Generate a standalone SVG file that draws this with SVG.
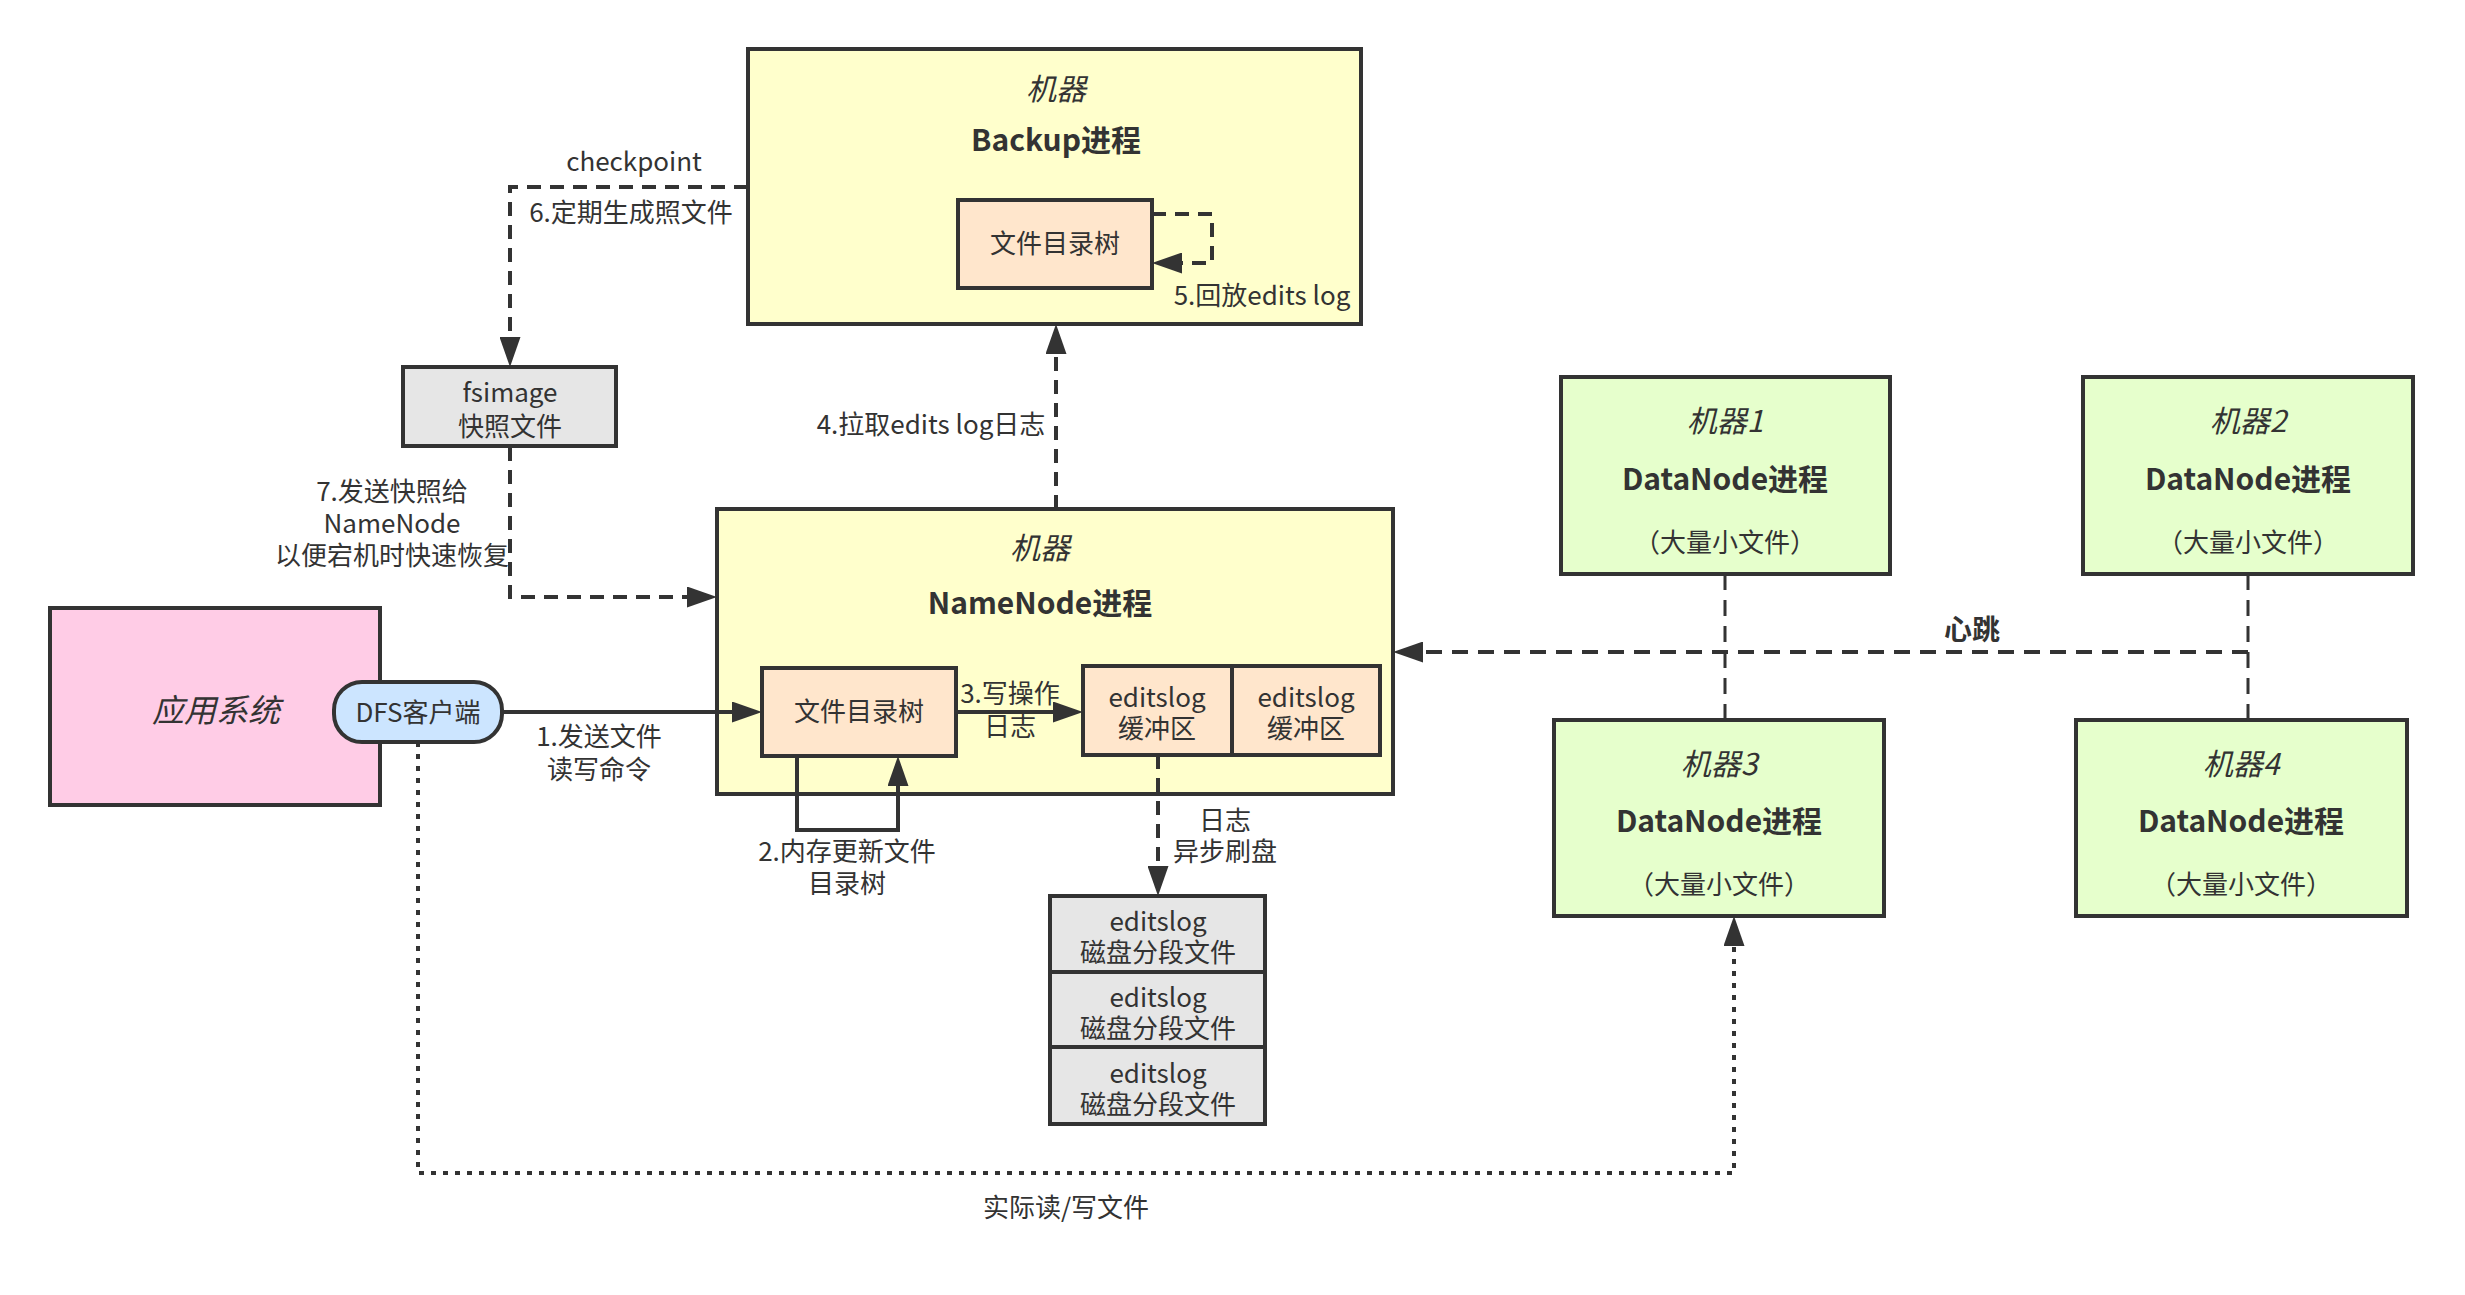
<svg xmlns="http://www.w3.org/2000/svg" width="2465" height="1295" viewBox="0 0 2465 1295">
<style>
text{font-family:"Noto Sans CJK SC","Noto Sans",sans-serif;fill:#333333;text-anchor:middle;dominant-baseline:central}
.t{font-size:26px}
.ti{font-size:30px;font-style:italic}
.tb{font-size:30px;font-weight:bold}
.box{stroke:#333333;stroke-width:4}
.yel{fill:#FFFFCC}.pch{fill:#FFE6CC}.gry{fill:#E6E6E6}.grn{fill:#E6FFCC}.pnk{fill:#FFCCE6}.blu{fill:#CCE5FF}
.c{fill:none;stroke:#333333;stroke-width:4}
.d{stroke-dasharray:14 9}
.dt{stroke-dasharray:5 7}
.thin{stroke-width:3;stroke-dasharray:16 10}
</style>
<defs>
<marker id="ah" markerUnits="userSpaceOnUse" viewBox="0 0 30 21" refX="2" refY="10.5" markerWidth="30" markerHeight="21" orient="auto">
<path d="M0,0 L30,10.5 L0,21 z" fill="#333333"/>
</marker>
</defs>
<rect width="2465" height="1295" fill="#ffffff"/>

<g id="backup">
<rect class="box yel" x="748" y="49" width="613" height="275"/>
<text class="ti" x="1056" y="87">机器</text>
<text class="tb" x="1056" y="138">Backup进程</text>
</g>
<g id="backup-tree">
<rect class="box pch" x="958" y="200" width="194" height="88"/>
<text class="t" x="1055" y="241">文件目录树</text>
</g>
<g id="fsimage">
<rect class="box gry" x="403" y="367" width="213" height="79"/>
<text class="t" x="510" y="390">fsimage<tspan x="510" dy="34">快照文件</tspan></text>
</g>
<g id="namenode">
<rect class="box yel" x="717" y="509" width="676" height="285"/>
<text class="ti" x="1040" y="546">机器</text>
<text class="tb" x="1040" y="601">NameNode进程</text>
</g>
<g id="nn-tree">
<rect class="box pch" x="762" y="668" width="194" height="88"/>
<text class="t" x="859" y="709">文件目录树</text>
</g>
<g id="buffer1">
<rect class="box pch" x="1083" y="666" width="149" height="89"/>
<text class="t" x="1157" y="695">editslog<tspan x="1157" dy="31">缓冲区</tspan></text>
</g>
<g id="buffer2">
<rect class="box pch" x="1232" y="666" width="148" height="89"/>
<text class="t" x="1306" y="695">editslog<tspan x="1306" dy="31">缓冲区</tspan></text>
</g>
<g id="disk1">
<rect class="box gry" x="1050" y="896" width="215" height="76"/>
<text class="t" x="1158" y="919">editslog<tspan x="1158" dy="31">磁盘分段文件</tspan></text>
</g>
<g id="disk2">
<rect class="box gry" x="1050" y="972" width="215" height="75"/>
<text class="t" x="1158" y="995">editslog<tspan x="1158" dy="31">磁盘分段文件</tspan></text>
</g>
<g id="disk3">
<rect class="box gry" x="1050" y="1047" width="215" height="77"/>
<text class="t" x="1158" y="1071">editslog<tspan x="1158" dy="31">磁盘分段文件</tspan></text>
</g>
<g id="app">
<rect class="box pnk" x="50" y="608" width="330" height="197"/>
<text class="ti" x="216" y="708" style="font-size:32px">应用系统</text>
</g>
<g id="dfs-client">
<rect class="box blu" x="334" y="682" width="168" height="60" rx="28" ry="28"/>
<text class="t" x="418" y="710">DFS客户端</text>
</g>
<g id="dn1">
<rect class="box grn" x="1561" y="377" width="329" height="197"/>
<text class="ti" x="1725" y="419">机器1</text>
<text class="tb" x="1725" y="477">DataNode进程</text>
<text class="t" x="1725" y="540">（大量小文件）</text>
</g>
<g id="dn2">
<rect class="box grn" x="2083" y="377" width="330" height="197"/>
<text class="ti" x="2248" y="419">机器2</text>
<text class="tb" x="2248" y="477">DataNode进程</text>
<text class="t" x="2248" y="540">（大量小文件）</text>
</g>
<g id="dn3">
<rect class="box grn" x="1554" y="720" width="330" height="196"/>
<text class="ti" x="1719" y="762">机器3</text>
<text class="tb" x="1719" y="819">DataNode进程</text>
<text class="t" x="1719" y="882">（大量小文件）</text>
</g>
<g id="dn4">
<rect class="box grn" x="2076" y="720" width="331" height="196"/>
<text class="ti" x="2241" y="762">机器4</text>
<text class="tb" x="2241" y="819">DataNode进程</text>
<text class="t" x="2241" y="882">（大量小文件）</text>
</g>

<g id="connectors">
<path class="c" d="M502,712 H734" marker-end="url(#ah)"/>
<path class="c" d="M797,756 V830 H898 V784" marker-end="url(#ah)"/>
<path class="c" d="M956,712 H1055" marker-end="url(#ah)"/>
<path class="c d" d="M1056,509 V352" marker-end="url(#ah)"/>
<path class="c d" d="M1152,214 H1212 V263 H1180" marker-end="url(#ah)"/>
<path class="c d" d="M748,187 H510 V339" marker-end="url(#ah)"/>
<path class="c d" d="M510,447 V597 H689" marker-end="url(#ah)"/>
<path class="c d" d="M1158,755 V868" marker-end="url(#ah)"/>
<path class="c" style="stroke-dasharray:16 10" d="M2248,652 H1421" marker-end="url(#ah)"/>
<path class="c thin" d="M1725,574 V720"/>
<path class="c thin" d="M2248,574 V720"/>
<path class="c dt" d="M418,742 V1173 H1734 V944" marker-end="url(#ah)"/>
<text class="t" x="1262" y="293">5.回放edits log</text>
<text class="t" x="634" y="159">checkpoint</text>
<text class="t" x="631" y="210">6.定期生成照文件</text>
<text class="t" x="392" y="489">7.发送快照给<tspan x="392" dy="32">NameNode</tspan><tspan x="392" dy="32">以便宕机时快速恢复</tspan></text>
<text class="t" x="931" y="422">4.拉取edits log日志</text>
<text class="t" x="1010" y="691">3.写操作<tspan x="1010" dy="33">日志</tspan></text>
<text class="t" x="847" y="849">2.内存更新文件<tspan x="847" dy="32">目录树</tspan></text>
<text class="t" x="1225" y="818">日志<tspan x="1225" dy="31">异步刷盘</tspan></text>
<text class="t" x="599" y="734">1.发送文件<tspan x="599" dy="33">读写命令</tspan></text>
<text class="t" x="1972" y="628" style="font-weight:bold;font-size:28px">心跳</text>
<text class="t" x="1066" y="1205">实际读/写文件</text>
</g>
</svg>
